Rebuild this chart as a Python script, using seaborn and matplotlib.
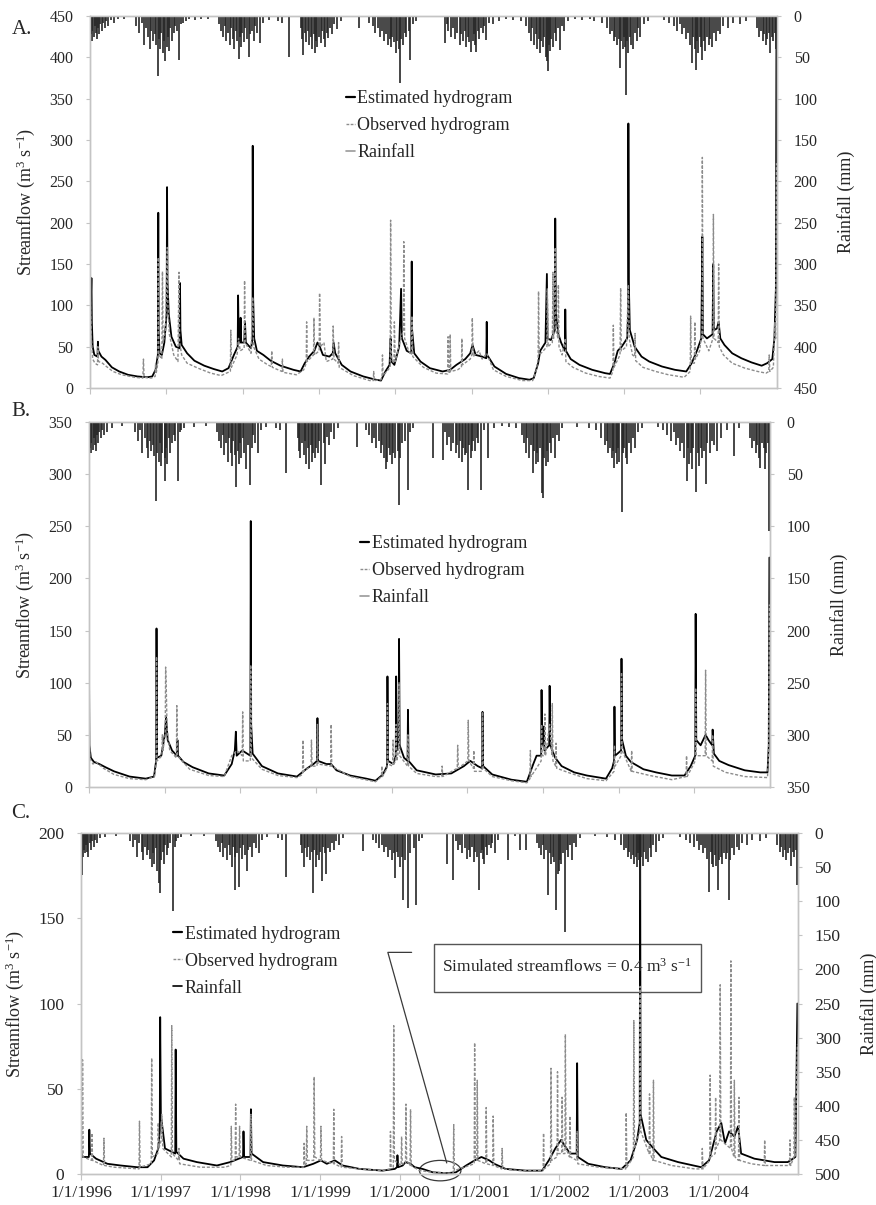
import pandas as pd
import matplotlib
matplotlib.use("Agg")
import matplotlib.pyplot as plt
import matplotlib.dates as mdates
from matplotlib.lines import Line2D
from matplotlib.patches import Ellipse, Rectangle
import seaborn as sns

# ---------------- panel A: streamflow (m3/s) ----------------
est_a = [("1996-01-01", 60), ("1996-01-08", 133), ("1996-01-10", 80), ("1996-01-14", 50), ("1996-01-22", 40),
         ("1996-02-06", 38), ("1996-02-08", 56), ("1996-02-10", 45), ("1996-02-25", 38), ("1996-03-15", 34),
         ("1996-04-15", 25), ("1996-05-20", 20), ("1996-07-01", 16), ("1996-08-15", 14), ("1996-10-01", 13),
         ("1996-10-25", 14), ("1996-11-10", 22), ("1996-11-21", 40), ("1996-11-23", 212), ("1996-11-25", 70),
         ("1996-11-29", 42), ("1996-12-10", 40), ("1996-12-22", 55), ("1997-01-02", 90), ("1997-01-04", 243),
         ("1997-01-06", 130), ("1997-01-12", 90), ("1997-01-25", 62), ("1997-02-15", 50), ("1997-03-05", 48),
         ("1997-03-07", 127), ("1997-03-09", 70), ("1997-03-15", 52), ("1997-04-10", 42), ("1997-05-15", 33),
         ("1997-07-01", 27), ("1997-08-15", 23), ("1997-09-25", 20), ("1997-10-25", 24), ("1997-11-20", 40),
         ("1997-12-08", 50), ("1997-12-10", 112), ("1997-12-13", 60), ("1997-12-20", 55), ("1997-12-22", 85),
         ("1997-12-25", 55), ("1998-01-08", 55), ("1998-01-12", 80), ("1998-01-16", 55), ("1998-02-10", 48),
         ("1998-02-17", 60), ("1998-02-18", 293), ("1998-02-20", 110), ("1998-02-25", 60), ("1998-03-10", 45),
         ("1998-04-10", 40), ("1998-05-15", 33), ("1998-07-01", 27), ("1998-09-01", 22), ("1998-10-05", 20),
         ("1998-10-25", 30), ("1998-11-15", 38), ("1998-12-10", 45), ("1998-12-25", 55), ("1999-01-05", 50),
         ("1999-01-20", 40), ("1999-02-20", 38), ("1999-03-08", 42), ("1999-03-12", 55), ("1999-03-20", 42),
         ("1999-04-20", 28), ("1999-06-01", 20), ("1999-08-01", 14), ("1999-10-01", 10), ("1999-10-25", 9),
         ("1999-11-15", 20), ("1999-12-05", 28), ("1999-12-10", 60), ("1999-12-14", 32), ("1999-12-28", 28),
         ("2000-01-20", 50), ("2000-01-29", 120), ("2000-02-02", 60), ("2000-02-10", 55), ("2000-02-25", 45),
         ("2000-03-18", 42), ("2000-03-20", 153), ("2000-03-22", 70), ("2000-04-01", 42), ("2000-05-01", 32),
         ("2000-06-15", 24), ("2000-08-15", 20), ("2000-09-20", 22), ("2000-10-20", 28), ("2000-12-01", 35),
         ("2000-12-25", 42), ("2001-01-05", 52), ("2001-01-20", 40), ("2001-02-20", 38), ("2001-03-12", 36),
         ("2001-03-14", 80), ("2001-03-16", 40), ("2001-04-20", 26), ("2001-06-15", 17), ("2001-08-15", 12),
         ("2001-10-05", 10), ("2001-10-25", 12), ("2001-11-15", 30), ("2001-11-25", 45), ("2001-12-20", 55),
         ("2001-12-27", 138), ("2001-12-30", 60), ("2002-01-15", 58), ("2002-02-03", 70), ("2002-02-05", 205),
         ("2002-02-08", 90), ("2002-02-20", 65), ("2002-03-05", 55), ("2002-03-23", 45), ("2002-03-25", 95),
         ("2002-03-28", 45), ("2002-04-20", 35), ("2002-06-01", 28), ("2002-08-01", 22), ("2002-10-01", 18),
         ("2002-10-25", 17), ("2002-11-15", 30), ("2002-12-01", 45), ("2002-12-20", 50), ("2003-01-15", 60),
         ("2003-01-20", 90), ("2003-01-21", 320), ("2003-01-23", 130), ("2003-01-28", 70), ("2003-02-20", 50),
         ("2003-03-25", 38), ("2003-05-01", 32), ("2003-07-01", 26), ("2003-09-01", 22), ("2003-10-25", 20),
         ("2003-11-20", 30), ("2003-12-15", 45), ("2004-01-05", 60), ("2004-01-10", 183), ("2004-01-13", 65),
         ("2004-02-01", 60), ("2004-02-28", 65), ("2004-03-02", 150), ("2004-03-05", 70), ("2004-03-20", 72),
         ("2004-03-28", 80), ("2004-04-05", 60), ("2004-04-25", 52), ("2004-06-01", 42), ("2004-07-15", 36),
         ("2004-09-01", 31), ("2004-10-20", 27), ("2004-11-15", 30), ("2004-12-10", 35), ("2004-12-20", 60),
         ("2004-12-27", 120), ("2004-12-30", 460)]

obs_a = [("1996-01-01", 140), ("1996-01-04", 90), ("1996-01-08", 60), ("1996-01-14", 35), ("1996-01-25", 30),
         ("1996-02-06", 28), ("1996-02-08", 50), ("1996-02-11", 32), ("1996-03-01", 30), ("1996-03-20", 26),
         ("1996-04-20", 20), ("1996-06-01", 16), ("1996-08-01", 13), ("1996-09-10", 12), ("1996-09-13", 35),
         ("1996-09-16", 13), ("1996-10-20", 12), ("1996-11-08", 14), ("1996-11-10", 30), ("1996-11-13", 18),
         ("1996-11-21", 30), ("1996-11-23", 158), ("1996-11-26", 40), ("1996-12-10", 35), ("1996-12-13", 141),
         ("1996-12-16", 55), ("1996-12-28", 70), ("1997-01-05", 170), ("1997-01-08", 100), ("1997-01-15", 65),
         ("1997-02-05", 40), ("1997-02-25", 32), ("1997-03-02", 140), ("1997-03-05", 55), ("1997-03-15", 40),
         ("1997-04-10", 30), ("1997-06-01", 24), ("1997-08-01", 18), ("1997-09-20", 15), ("1997-10-15", 18),
         ("1997-11-03", 20), ("1997-11-05", 70), ("1997-11-08", 25), ("1997-12-05", 40), ("1997-12-12", 60),
         ("1997-12-20", 45), ("1998-01-08", 48), ("1998-01-10", 130), ("1998-01-13", 55), ("1998-02-10", 42),
         ("1998-02-18", 110), ("1998-02-22", 50), ("1998-03-20", 35), ("1998-05-01", 28), ("1998-05-18", 26),
         ("1998-05-20", 45), ("1998-05-23", 25), ("1998-07-08", 20), ("1998-07-10", 35), ("1998-07-13", 19),
         ("1998-09-15", 16), ("1998-10-20", 22), ("1998-11-01", 30), ("1998-11-03", 80), ("1998-11-06", 32),
         ("1998-12-06", 40), ("1998-12-08", 85), ("1998-12-11", 40), ("1999-01-02", 45), ("1999-01-04", 115),
         ("1999-01-08", 50), ("1999-01-25", 55), ("1999-02-05", 32), ("1999-03-08", 35), ("1999-03-10", 75),
         ("1999-03-14", 35), ("1999-04-03", 30), ("1999-04-05", 55), ("1999-04-08", 25), ("1999-06-15", 15),
         ("1999-09-01", 9), ("1999-09-18", 9), ("1999-09-20", 20), ("1999-09-23", 9), ("1999-10-25", 10),
         ("1999-10-30", 15), ("1999-11-01", 40), ("1999-11-04", 15), ("1999-12-08", 25), ("1999-12-10", 203),
         ("1999-12-13", 35), ("1999-12-26", 30), ("1999-12-28", 80), ("2000-01-01", 32), ("2000-01-28", 60),
         ("2000-02-09", 70), ("2000-02-11", 177), ("2000-02-15", 60), ("2000-03-05", 45), ("2000-03-19", 40),
         ("2000-03-21", 87), ("2000-03-25", 38), ("2000-05-15", 25), ("2000-07-15", 18), ("2000-09-08", 17),
         ("2000-09-10", 62), ("2000-09-13", 18), ("2000-09-18", 18), ("2000-09-20", 65), ("2000-09-23", 20),
         ("2000-10-25", 22), ("2000-11-13", 25), ("2000-11-15", 60), ("2000-11-18", 28), ("2000-12-25", 35),
         ("2001-01-02", 40), ("2001-01-04", 85), ("2001-01-08", 38), ("2001-02-05", 45), ("2001-02-20", 35),
         ("2001-03-14", 42), ("2001-04-15", 22), ("2001-06-15", 14), ("2001-09-01", 9), ("2001-10-20", 9),
         ("2001-11-05", 20), ("2001-11-15", 35), ("2001-11-17", 117), ("2001-11-20", 40), ("2001-12-10", 45),
         ("2001-12-27", 50), ("2001-12-29", 120), ("2002-01-02", 50), ("2002-01-22", 55), ("2002-01-25", 140),
         ("2002-01-28", 60), ("2002-02-05", 170), ("2002-02-08", 70), ("2002-02-18", 60), ("2002-02-20", 125),
         ("2002-02-23", 50), ("2002-03-10", 40), ("2002-03-25", 60), ("2002-03-28", 32), ("2002-05-01", 25),
         ("2002-07-01", 18), ("2002-09-01", 14), ("2002-10-25", 12), ("2002-11-08", 20), ("2002-11-10", 76),
         ("2002-11-13", 25), ("2002-12-12", 40), ("2002-12-15", 121), ("2002-12-18", 45), ("2003-01-12", 50),
         ("2003-01-21", 125), ("2003-01-25", 60), ("2003-02-10", 40), ("2003-02-20", 38), ("2003-02-22", 66),
         ("2003-02-25", 33), ("2003-04-01", 25), ("2003-06-01", 20), ("2003-08-01", 16), ("2003-10-15", 13),
         ("2003-11-13", 20), ("2003-11-15", 87), ("2003-11-18", 30), ("2003-12-03", 30), ("2003-12-05", 80),
         ("2003-12-08", 35), ("2003-12-28", 45), ("2004-01-09", 70), ("2004-01-10", 279), ("2004-01-13", 60),
         ("2004-02-10", 45), ("2004-03-01", 60), ("2004-03-03", 210), ("2004-03-06", 60), ("2004-03-26", 55),
         ("2004-03-28", 150), ("2004-03-31", 50), ("2004-04-20", 40), ("2004-06-01", 30), ("2004-08-01", 24),
         ("2004-10-01", 20), ("2004-11-10", 18), ("2004-11-23", 20), ("2004-11-25", 40), ("2004-11-28", 20),
         ("2004-12-15", 25), ("2004-12-22", 80), ("2004-12-26", 60), ("2004-12-30", 272)]

rain_a = [("1996-01-02", 51), ("1996-01-05", 22), ("1996-01-09", 30), ("1996-01-13", 18), ("1996-01-18", 25),
          ("1996-01-24", 12), ("1996-01-29", 20), ("1996-02-03", 28), ("1996-02-08", 15), ("1996-02-14", 22),
          ("1996-02-20", 10), ("1996-02-27", 18), ("1996-03-05", 8), ("1996-03-12", 14), ("1996-03-20", 6),
          ("1996-03-28", 12), ("1996-04-10", 5), ("1996-04-25", 8), ("1996-05-15", 3), ("1996-06-10", 4),
          ("1996-08-10", 12), ("1996-08-25", 20), ("1996-09-05", 8), ("1996-09-15", 35), ("1996-09-25", 15),
          ("1996-10-05", 25), ("1996-10-12", 40), ("1996-10-20", 18), ("1996-10-28", 30), ("1996-11-05", 22),
          ("1996-11-12", 35), ("1996-11-20", 73), ("1996-11-25", 28), ("1996-12-02", 40), ("1996-12-08", 20),
          ("1996-12-15", 45), ("1996-12-20", 30), ("1996-12-27", 55), ("1997-01-03", 38), ("1997-01-08", 25),
          ("1997-01-14", 42), ("1997-01-20", 15), ("1997-01-27", 30), ("1997-02-05", 20), ("1997-02-12", 12),
          ("1997-02-20", 18), ("1997-03-03", 53), ("1997-03-10", 10), ("1997-03-20", 8), ("1997-04-05", 6),
          ("1997-04-20", 4), ("1997-05-20", 5), ("1997-06-15", 3), ("1997-07-20", 4),
          ("1997-09-10", 10), ("1997-09-20", 18), ("1997-10-01", 25), ("1997-10-08", 12), ("1997-10-15", 30),
          ("1997-10-22", 20), ("1997-11-01", 35), ("1997-11-08", 15), ("1997-11-15", 28), ("1997-11-22", 40),
          ("1997-11-28", 18), ("1997-12-05", 30), ("1997-12-12", 52), ("1997-12-18", 25), ("1997-12-24", 38),
          ("1997-12-30", 20), ("1998-01-06", 32), ("1998-01-12", 15), ("1998-01-20", 28), ("1998-01-30", 49),
          ("1998-02-06", 22), ("1998-02-14", 18), ("1998-02-22", 30), ("1998-03-02", 12), ("1998-03-12", 20),
          ("1998-03-25", 33), ("1998-04-10", 8), ("1998-05-05", 5), ("1998-06-20", 6), ("1998-07-10", 8),
          ("1998-08-12", 49),
          ("1998-10-05", 15), ("1998-10-12", 28), ("1998-10-18", 47), ("1998-10-25", 20), ("1998-11-02", 32),
          ("1998-11-09", 18), ("1998-11-16", 35), ("1998-11-23", 25), ("1998-11-30", 40), ("1998-12-06", 22),
          ("1998-12-12", 45), ("1998-12-18", 30), ("1998-12-25", 38), ("1999-01-02", 25), ("1999-01-09", 33),
          ("1999-01-16", 18), ("1999-01-23", 28), ("1999-01-30", 37), ("1999-02-07", 20), ("1999-02-15", 26),
          ("1999-02-24", 14), ("1999-03-05", 22), ("1999-03-15", 10), ("1999-03-28", 16), ("1999-04-15", 6),
          ("1999-07-12", 15),
          ("1999-08-30", 8), ("1999-09-15", 12), ("1999-09-28", 20), ("1999-10-10", 15), ("1999-10-20", 25),
          ("1999-11-01", 18), ("1999-11-10", 30), ("1999-11-18", 22), ("1999-11-27", 35), ("1999-12-05", 28),
          ("1999-12-12", 38), ("1999-12-18", 25), ("1999-12-26", 32), ("2000-01-03", 45), ("2000-01-10", 30),
          ("2000-01-17", 40), ("2000-01-25", 81), ("2000-01-31", 28), ("2000-02-08", 35), ("2000-02-15", 20),
          ("2000-02-22", 25), ("2000-03-05", 18), ("2000-03-14", 53), ("2000-03-25", 10), ("2000-04-10", 6),
          ("2000-08-25", 33),
          ("2000-09-05", 10), ("2000-09-12", 18), ("2000-09-25", 25), ("2000-10-05", 14), ("2000-10-15", 28),
          ("2000-10-25", 20), ("2000-11-05", 35), ("2000-11-12", 22), ("2000-11-20", 30), ("2000-11-28", 18),
          ("2000-12-06", 38), ("2000-12-13", 25), ("2000-12-20", 32), ("2000-12-31", 44), ("2001-01-05", 30),
          ("2001-01-10", 22), ("2001-01-17", 35), ("2001-01-23", 44), ("2001-01-30", 18), ("2001-02-06", 28),
          ("2001-02-14", 15), ("2001-02-22", 20), ("2001-03-01", 12), ("2001-03-12", 29), ("2001-03-25", 8),
          ("2001-04-15", 10), ("2001-05-10", 6), ("2001-06-15", 4), ("2001-07-20", 5), ("2001-08-25", 6),
          ("2001-09-20", 12), ("2001-10-01", 20), ("2001-10-10", 30), ("2001-10-18", 15), ("2001-10-26", 35),
          ("2001-11-03", 22), ("2001-11-10", 40), ("2001-11-17", 28), ("2001-11-24", 45), ("2001-12-01", 30),
          ("2001-12-08", 38), ("2001-12-15", 25), ("2001-12-21", 50), ("2001-12-27", 55), ("2002-01-01", 67),
          ("2002-01-06", 35), ("2002-01-12", 42), ("2002-01-18", 28), ("2002-01-25", 38), ("2002-02-02", 20),
          ("2002-02-10", 30), ("2002-02-18", 15), ("2002-02-26", 41), ("2002-03-08", 12), ("2002-03-20", 18),
          ("2002-04-05", 6), ("2002-05-10", 4), ("2002-06-15", 5), ("2002-07-20", 3), ("2002-08-10", 6),
          ("2002-09-15", 8), ("2002-10-10", 15), ("2002-10-25", 22), ("2002-11-05", 18), ("2002-11-12", 30),
          ("2002-11-20", 25), ("2002-11-28", 35), ("2002-12-05", 28), ("2002-12-12", 63), ("2002-12-18", 30),
          ("2002-12-25", 40), ("2002-12-30", 25), ("2003-01-05", 38), ("2003-01-08", 96), ("2003-01-14", 30),
          ("2003-01-20", 45), ("2003-01-27", 25), ("2003-02-04", 35), ("2003-02-12", 40), ("2003-02-20", 20),
          ("2003-03-01", 30), ("2003-03-10", 15), ("2003-03-20", 25), ("2003-04-05", 10), ("2003-04-25", 6),
          ("2003-07-10", 5), ("2003-08-05", 8), ("2003-08-25", 12), ("2003-09-10", 18), ("2003-09-25", 10),
          ("2003-10-05", 22), ("2003-10-15", 15), ("2003-10-25", 28), ("2003-11-03", 20), ("2003-11-12", 35),
          ("2003-11-22", 57), ("2003-11-28", 25), ("2003-12-05", 40), ("2003-12-10", 65), ("2003-12-16", 30),
          ("2003-12-22", 45), ("2003-12-28", 25), ("2004-01-04", 38), ("2004-01-10", 53), ("2004-01-17", 30),
          ("2004-01-25", 42), ("2004-02-02", 25), ("2004-02-10", 35), ("2004-02-18", 28), ("2004-02-26", 38),
          ("2004-03-05", 20), ("2004-03-15", 30), ("2004-03-25", 18), ("2004-04-05", 22), ("2004-04-20", 12),
          ("2004-05-10", 15), ("2004-06-05", 8), ("2004-07-10", 10), ("2004-08-05", 6),
          ("2004-09-28", 15), ("2004-10-08", 25), ("2004-10-16", 18), ("2004-10-24", 30), ("2004-11-01", 22),
          ("2004-11-09", 35), ("2004-11-16", 28), ("2004-11-23", 20), ("2004-12-01", 45), ("2004-12-08", 25),
          ("2004-12-15", 30), ("2004-12-22", 20), ("2004-12-28", 40)]

# ---------------- panel B ----------------
est_b = [("1996-01-01", 113), ("1996-01-03", 40), ("1996-01-10", 28), ("1996-01-25", 24), ("1996-02-20", 22),
         ("1996-03-20", 19), ("1996-05-01", 15), ("1996-07-15", 10), ("1996-10-01", 8), ("1996-11-10", 10),
         ("1996-11-20", 25), ("1996-11-22", 152), ("1996-11-25", 28), ("1996-12-15", 30), ("1997-01-01", 50),
         ("1997-01-07", 67), ("1997-01-15", 45), ("1997-02-05", 35), ("1997-02-28", 30), ("1997-03-03", 45),
         ("1997-03-06", 30), ("1997-04-01", 24), ("1997-05-15", 19), ("1997-08-01", 13), ("1997-10-15", 11),
         ("1997-11-20", 22), ("1997-12-05", 35), ("1997-12-10", 53), ("1997-12-14", 30), ("1998-01-10", 35),
         ("1998-02-18", 30), ("1998-02-20", 255), ("1998-02-22", 60), ("1998-03-01", 32), ("1998-04-15", 20),
         ("1998-07-01", 13), ("1998-10-01", 10), ("1998-11-20", 18), ("1998-12-20", 22), ("1999-01-06", 25),
         ("1999-01-08", 66), ("1999-01-11", 25), ("1999-02-20", 22), ("1999-03-15", 22), ("1999-04-10", 16),
         ("1999-06-15", 11), ("1999-09-01", 8), ("1999-10-15", 6), ("1999-11-20", 12), ("1999-12-10", 20),
         ("1999-12-12", 106), ("1999-12-15", 25), ("2000-01-10", 22), ("2000-01-21", 30), ("2000-01-23", 106),
         ("2000-01-26", 35), ("2000-02-04", 45), ("2000-02-06", 142), ("2000-02-09", 40), ("2000-03-01", 28),
         ("2000-03-18", 25), ("2000-03-20", 74), ("2000-03-23", 25), ("2000-05-01", 16), ("2000-08-01", 12),
         ("2000-10-15", 13), ("2000-12-15", 20), ("2001-01-15", 25), ("2001-02-20", 20), ("2001-03-13", 18),
         ("2001-03-15", 72), ("2001-03-18", 20), ("2001-05-01", 12), ("2001-08-01", 7), ("2001-10-15", 5),
         ("2001-11-15", 22), ("2001-12-01", 30), ("2001-12-23", 30), ("2001-12-25", 93), ("2001-12-28", 40),
         ("2002-01-05", 58), ("2002-01-08", 35), ("2002-01-31", 40), ("2002-02-02", 97), ("2002-02-05", 40),
         ("2002-03-01", 28), ("2002-04-01", 20), ("2002-06-01", 14), ("2002-08-01", 11), ("2002-11-01", 8),
         ("2002-12-01", 18), ("2002-12-10", 25), ("2002-12-12", 77), ("2002-12-15", 30), ("2003-01-13", 35),
         ("2003-01-15", 123), ("2003-01-18", 45), ("2003-02-05", 30), ("2003-03-01", 24), ("2003-05-01", 17),
         ("2003-07-01", 14), ("2003-09-15", 11), ("2003-11-15", 11), ("2003-12-15", 20), ("2004-01-06", 30),
         ("2004-01-08", 166), ("2004-01-11", 45), ("2004-02-01", 40), ("2004-02-25", 50), ("2004-03-10", 45),
         ("2004-03-28", 40), ("2004-03-30", 55), ("2004-04-05", 32), ("2004-05-01", 25), ("2004-06-15", 21),
         ("2004-09-01", 16), ("2004-11-15", 14), ("2004-12-20", 14), ("2004-12-26", 40), ("2004-12-29", 220)]

obs_b = [("1996-01-01", 60), ("1996-01-04", 28), ("1996-01-20", 22), ("1996-02-05", 24), ("1996-03-10", 18),
         ("1996-05-01", 12), ("1996-07-15", 8), ("1996-10-01", 7), ("1996-11-12", 10), ("1996-11-20", 22),
         ("1996-11-22", 125), ("1996-11-25", 25), ("1996-12-18", 30), ("1996-12-20", 50), ("1996-12-23", 35),
         ("1997-01-03", 50), ("1997-01-05", 115), ("1997-01-08", 95), ("1997-01-12", 55), ("1997-01-25", 35),
         ("1997-02-26", 28), ("1997-02-28", 78), ("1997-03-03", 30), ("1997-05-01", 17), ("1997-08-01", 11),
         ("1997-10-15", 10), ("1997-11-20", 30), ("1997-12-15", 35), ("1998-01-10", 30), ("1998-01-12", 72),
         ("1998-01-15", 25), ("1998-02-18", 25), ("1998-02-20", 117), ("1998-02-23", 28), ("1998-04-15", 17),
         ("1998-07-01", 11), ("1998-10-01", 9), ("1998-10-28", 12), ("1998-10-30", 45), ("1998-11-02", 15),
         ("1998-12-08", 20), ("1998-12-10", 45), ("1998-12-13", 20), ("1999-01-06", 20), ("1999-01-08", 60),
         ("1999-01-11", 22), ("1999-03-13", 20), ("1999-03-15", 60), ("1999-03-18", 20), ("1999-06-15", 10),
         ("1999-10-15", 5), ("1999-11-13", 10), ("1999-11-15", 20), ("1999-11-18", 10), ("1999-12-10", 18),
         ("1999-12-12", 80), ("1999-12-15", 22), ("2000-01-06", 20), ("2000-01-08", 45), ("2000-01-11", 22),
         ("2000-01-21", 25), ("2000-01-23", 60), ("2000-01-26", 25), ("2000-02-04", 35), ("2000-02-06", 100),
         ("2000-02-09", 30), ("2000-03-18", 20), ("2000-03-20", 50), ("2000-03-23", 20), ("2000-05-01", 13),
         ("2000-08-01", 10), ("2000-08-30", 10), ("2000-09-01", 20), ("2000-09-04", 10), ("2000-11-13", 18),
         ("2000-11-15", 40), ("2000-11-18", 18), ("2001-01-03", 25), ("2001-01-05", 64), ("2001-01-08", 25),
         ("2001-01-30", 18), ("2001-02-01", 35), ("2001-02-04", 15), ("2001-03-13", 15), ("2001-03-15", 72),
         ("2001-03-18", 18), ("2001-05-01", 10), ("2001-08-01", 6), ("2001-10-15", 4), ("2001-10-30", 8),
         ("2001-11-01", 35), ("2001-11-04", 10), ("2001-12-23", 25), ("2001-12-25", 60), ("2001-12-28", 30),
         ("2002-01-08", 30), ("2002-01-10", 70), ("2002-01-13", 30), ("2002-02-02", 60), ("2002-02-13", 30),
         ("2002-02-15", 80), ("2002-02-18", 25), ("2002-03-03", 20), ("2002-03-05", 42), ("2002-03-08", 18),
         ("2002-05-01", 14), ("2002-08-01", 8), ("2002-11-01", 6), ("2002-12-10", 15), ("2002-12-12", 40),
         ("2002-12-15", 20), ("2003-01-13", 30), ("2003-01-15", 110), ("2003-01-18", 35), ("2003-03-03", 15),
         ("2003-03-05", 35), ("2003-03-08", 15), ("2003-06-01", 11), ("2003-09-15", 7), ("2003-11-23", 10),
         ("2003-11-25", 30), ("2003-11-28", 10), ("2004-01-06", 25), ("2004-01-08", 95), ("2004-01-11", 30),
         ("2004-02-23", 30), ("2004-02-25", 112), ("2004-02-28", 30), ("2004-03-28", 25), ("2004-03-30", 50),
         ("2004-04-02", 20), ("2004-06-01", 14), ("2004-09-01", 10), ("2004-12-20", 9), ("2004-12-26", 40),
         ("2004-12-29", 175)]

rain_b = [("1996-01-02", 57), ("1996-01-05", 25), ("1996-01-09", 30), ("1996-01-13", 20), ("1996-01-18", 27),
          ("1996-01-24", 15), ("1996-01-29", 22), ("1996-02-03", 28), ("1996-02-08", 12), ("1996-02-14", 20),
          ("1996-02-20", 10), ("1996-02-27", 15), ("1996-03-05", 8), ("1996-03-12", 12), ("1996-03-28", 10),
          ("1996-04-20", 6), ("1996-06-10", 4),
          ("1996-08-10", 10), ("1996-08-25", 18), ("1996-09-05", 8), ("1996-09-15", 30), ("1996-09-25", 15),
          ("1996-10-05", 25), ("1996-10-12", 35), ("1996-10-20", 18), ("1996-10-28", 28), ("1996-11-05", 22),
          ("1996-11-12", 33), ("1996-11-20", 76), ("1996-11-25", 30), ("1996-12-02", 38), ("1996-12-08", 20),
          ("1996-12-15", 42), ("1996-12-20", 30), ("1996-12-31", 57), ("1997-01-04", 35), ("1997-01-08", 25),
          ("1997-01-14", 40), ("1997-01-20", 15), ("1997-01-27", 30), ("1997-02-05", 20), ("1997-02-12", 12),
          ("1997-02-20", 18), ("1997-03-07", 57), ("1997-03-14", 10), ("1997-03-22", 8), ("1997-04-05", 6),
          ("1997-05-20", 5), ("1997-07-20", 4),
          ("1997-09-10", 10), ("1997-09-20", 18), ("1997-10-01", 25), ("1997-10-08", 12), ("1997-10-15", 32),
          ("1997-10-22", 20), ("1997-11-01", 38), ("1997-11-08", 15), ("1997-11-15", 30), ("1997-11-22", 42),
          ("1997-11-28", 18), ("1997-12-05", 32), ("1997-12-12", 62), ("1997-12-18", 28), ("1997-12-24", 40),
          ("1997-12-30", 20), ("1998-01-06", 35), ("1998-01-12", 15), ("1998-01-20", 30), ("1998-01-30", 45),
          ("1998-02-06", 22), ("1998-02-17", 60), ("1998-02-24", 25), ("1998-03-02", 12), ("1998-03-12", 20),
          ("1998-03-25", 30), ("1998-04-10", 8), ("1998-05-05", 5), ("1998-06-20", 6), ("1998-07-10", 8),
          ("1998-08-08", 49),
          ("1998-10-05", 15), ("1998-10-12", 28), ("1998-10-18", 35), ("1998-10-25", 20), ("1998-11-02", 32),
          ("1998-11-09", 18), ("1998-11-16", 40), ("1998-11-23", 25), ("1998-11-30", 45), ("1998-12-06", 22),
          ("1998-12-12", 38), ("1998-12-18", 30), ("1998-12-25", 35), ("1999-01-02", 25), ("1999-01-09", 30),
          ("1999-01-16", 18), ("1999-01-27", 60), ("1999-02-07", 20), ("1999-02-15", 40), ("1999-02-24", 14),
          ("1999-03-05", 22), ("1999-03-15", 10), ("1999-03-28", 16), ("1999-04-15", 6), ("1999-07-20", 24),
          ("1999-08-30", 8), ("1999-09-15", 12), ("1999-09-28", 20), ("1999-10-10", 15), ("1999-10-20", 25),
          ("1999-11-01", 18), ("1999-11-10", 30), ("1999-11-18", 22), ("1999-11-27", 35), ("1999-12-05", 45),
          ("1999-12-12", 38), ("1999-12-18", 25), ("1999-12-26", 32), ("2000-01-03", 40), ("2000-01-10", 30),
          ("2000-01-17", 35), ("2000-01-31", 28), ("2000-02-06", 80), ("2000-02-12", 35), ("2000-02-20", 20),
          ("2000-03-05", 18), ("2000-03-22", 65), ("2000-03-30", 10), ("2000-04-15", 6), ("2000-07-17", 35),
          ("2000-09-05", 36), ("2000-09-15", 10), ("2000-09-25", 22), ("2000-10-05", 14), ("2000-10-15", 28),
          ("2000-10-25", 20), ("2000-11-05", 30), ("2000-11-12", 22), ("2000-11-20", 35), ("2000-11-28", 18),
          ("2000-12-06", 38), ("2000-12-13", 25), ("2000-12-20", 32), ("2000-12-27", 30), ("2001-01-04", 65),
          ("2001-01-10", 22), ("2001-01-17", 35), ("2001-01-23", 28), ("2001-01-30", 18), ("2001-02-06", 28),
          ("2001-02-14", 15), ("2001-02-22", 20), ("2001-03-10", 65), ("2001-03-20", 8), ("2001-04-12", 35),
          ("2001-05-10", 6), ("2001-06-15", 4), ("2001-07-20", 5), ("2001-08-25", 6),
          ("2001-09-20", 12), ("2001-10-01", 20), ("2001-10-10", 30), ("2001-10-18", 15), ("2001-10-26", 35),
          ("2001-11-03", 22), ("2001-11-13", 49), ("2001-11-20", 28), ("2001-11-27", 40), ("2001-12-04", 30),
          ("2001-12-10", 38), ("2001-12-17", 25), ("2001-12-28", 68), ("2002-01-03", 73), ("2002-01-08", 35),
          ("2002-01-14", 42), ("2002-01-20", 28), ("2002-01-27", 38), ("2002-02-03", 20), ("2002-02-10", 30),
          ("2002-02-18", 15), ("2002-02-26", 35), ("2002-03-08", 12), ("2002-03-20", 18), ("2002-04-05", 6),
          ("2002-06-15", 5), ("2002-08-10", 6),
          ("2002-09-15", 8), ("2002-10-10", 15), ("2002-10-25", 22), ("2002-11-05", 18), ("2002-11-12", 30),
          ("2002-11-20", 25), ("2002-11-28", 35), ("2002-12-05", 28), ("2002-12-12", 44), ("2002-12-18", 30),
          ("2002-12-25", 40), ("2002-12-30", 25), ("2003-01-05", 38), ("2003-01-15", 86), ("2003-01-20", 30),
          ("2003-01-27", 25), ("2003-02-04", 35), ("2003-02-12", 40), ("2003-02-20", 20), ("2003-03-01", 30),
          ("2003-03-10", 15), ("2003-03-20", 25), ("2003-04-05", 10), ("2003-04-25", 6),
          ("2003-07-10", 5), ("2003-08-05", 8), ("2003-08-25", 12), ("2003-09-10", 18), ("2003-09-25", 10),
          ("2003-10-05", 22), ("2003-10-15", 15), ("2003-10-25", 28), ("2003-11-03", 20), ("2003-11-12", 35),
          ("2003-11-25", 57), ("2003-12-02", 25), ("2003-12-08", 40), ("2003-12-15", 30), ("2003-12-22", 45),
          ("2003-12-28", 25), ("2004-01-10", 67), ("2004-01-17", 30), ("2004-01-25", 42), ("2004-02-02", 25),
          ("2004-02-10", 35), ("2004-02-18", 28), ("2004-02-28", 59), ("2004-03-05", 20), ("2004-03-15", 30),
          ("2004-03-25", 18), ("2004-04-05", 22), ("2004-04-20", 28), ("2004-05-10", 15), ("2004-06-05", 8),
          ("2004-07-10", 33), ("2004-08-05", 6),
          ("2004-09-28", 15), ("2004-10-08", 25), ("2004-10-16", 18), ("2004-10-24", 30), ("2004-11-01", 22),
          ("2004-11-09", 35), ("2004-11-16", 44), ("2004-11-23", 20), ("2004-12-01", 25), ("2004-12-08", 45),
          ("2004-12-15", 30), ("2004-12-22", 20), ("2004-12-29", 105)]

# ---------------- panel C ----------------
est_c = [("1996-01-01", 15), ("1996-01-05", 10), ("1996-02-06", 10), ("1996-02-08", 26), ("1996-02-11", 12),
         ("1996-03-10", 9), ("1996-05-01", 6), ("1996-07-01", 5), ("1996-09-15", 4), ("1996-11-01", 4),
         ("1996-12-01", 8), ("1996-12-20", 15), ("1996-12-27", 25), ("1996-12-29", 92), ("1997-01-01", 35),
         ("1997-01-20", 15), ("1997-03-08", 12), ("1997-03-10", 73), ("1997-03-13", 13), ("1997-04-15", 9),
         ("1997-06-15", 7), ("1997-09-15", 5), ("1997-11-15", 7), ("1998-01-13", 10), ("1998-01-15", 25),
         ("1998-01-18", 10), ("1998-02-16", 10), ("1998-02-18", 38), ("1998-02-21", 12), ("1998-04-15", 7),
         ("1998-07-15", 5), ("1998-10-15", 4), ("1998-12-01", 6), ("1999-01-05", 8), ("1999-02-01", 6),
         ("1999-03-10", 8), ("1999-04-15", 5), ("1999-07-01", 3), ("1999-10-15", 2), ("1999-12-10", 3),
         ("1999-12-20", 4), ("1999-12-22", 11), ("1999-12-25", 4), ("2000-01-15", 5), ("2000-01-28", 7),
         ("2000-02-20", 6), ("2000-03-10", 4), ("2000-04-15", 3), ("2000-06-01", 1), ("2000-08-01", 0.5),
         ("2000-09-15", 1), ("2000-11-01", 5), ("2000-12-10", 8), ("2001-01-10", 10), ("2001-02-15", 8),
         ("2001-03-10", 6), ("2001-05-01", 3), ("2001-08-01", 2), ("2001-10-15", 2), ("2001-11-15", 8),
         ("2001-12-15", 15), ("2002-01-10", 20), ("2002-02-20", 12), ("2002-03-23", 12), ("2002-03-25", 65),
         ("2002-03-28", 10), ("2002-05-15", 6), ("2002-08-01", 4), ("2002-10-15", 3), ("2002-11-25", 8),
         ("2002-12-25", 20), ("2003-01-06", 30), ("2003-01-08", 205), ("2003-01-10", 35), ("2003-02-05", 20),
         ("2003-03-10", 15), ("2003-04-15", 10), ("2003-07-01", 7), ("2003-10-15", 4), ("2003-11-20", 8),
         ("2003-12-25", 25), ("2004-01-15", 30), ("2004-02-01", 18), ("2004-02-20", 25), ("2004-03-15", 22),
         ("2004-04-01", 28), ("2004-04-15", 12), ("2004-06-15", 9), ("2004-09-15", 7), ("2004-11-15", 7),
         ("2004-12-20", 10), ("2004-12-29", 100)]

obs_c = [("1996-01-01", 15), ("1996-01-06", 12), ("1996-01-08", 67), ("1996-01-11", 10), ("1996-02-18", 8),
         ("1996-02-20", 24), ("1996-02-23", 8), ("1996-04-13", 5), ("1996-04-15", 21), ("1996-04-18", 5),
         ("1996-06-01", 4), ("1996-09-23", 3), ("1996-09-25", 31), ("1996-09-28", 4), ("1996-11-18", 6),
         ("1996-11-20", 68), ("1996-11-23", 10), ("1996-12-18", 12), ("1996-12-20", 30), ("1996-12-23", 15),
         ("1997-01-03", 20), ("1997-01-05", 35), ("1997-01-10", 15), ("1997-02-18", 10), ("1997-02-20", 87),
         ("1997-02-23", 12), ("1997-03-23", 8), ("1997-03-25", 15), ("1997-03-28", 6), ("1997-07-01", 4),
         ("1997-10-20", 4), ("1997-11-18", 5), ("1997-11-20", 28), ("1997-11-23", 8), ("1997-12-08", 8),
         ("1997-12-10", 41), ("1997-12-13", 10), ("1997-12-26", 10), ("1997-12-28", 28), ("1997-12-31", 10),
         ("1998-02-16", 8), ("1998-02-18", 35), ("1998-02-21", 8), ("1998-05-01", 5), ("1998-08-01", 4),
         ("1998-10-18", 4), ("1998-10-20", 18), ("1998-10-23", 5), ("1998-10-30", 6), ("1998-11-01", 28),
         ("1998-11-04", 8), ("1998-12-03", 8), ("1998-12-05", 57), ("1998-12-08", 10), ("1999-01-03", 8),
         ("1999-01-05", 28), ("1999-01-08", 8), ("1999-03-03", 6), ("1999-03-05", 38), ("1999-03-08", 6),
         ("1999-04-08", 4), ("1999-04-10", 22), ("1999-04-13", 4), ("1999-07-01", 3), ("1999-10-15", 2),
         ("1999-11-18", 3), ("1999-11-20", 25), ("1999-11-23", 4), ("1999-12-03", 4), ("1999-12-05", 87),
         ("1999-12-08", 8), ("2000-01-08", 5), ("2000-01-10", 22), ("2000-01-13", 6), ("2000-01-28", 6),
         ("2000-01-30", 41), ("2000-02-02", 8), ("2000-02-18", 5), ("2000-02-20", 38), ("2000-02-23", 5),
         ("2000-04-01", 2), ("2000-06-01", 1), ("2000-09-01", 0.5), ("2000-09-03", 1), ("2000-09-05", 29),
         ("2000-09-08", 2), ("2000-12-08", 6), ("2000-12-10", 77), ("2000-12-13", 10), ("2000-12-20", 8),
         ("2000-12-22", 55), ("2000-12-25", 8), ("2001-01-30", 6), ("2001-02-01", 39), ("2001-02-04", 6),
         ("2001-03-03", 5), ("2001-03-05", 34), ("2001-03-08", 5), ("2001-04-13", 3), ("2001-04-15", 15),
         ("2001-04-18", 3), ("2001-07-01", 2), ("2001-10-20", 2), ("2001-10-22", 24), ("2001-10-25", 3),
         ("2001-11-23", 6), ("2001-11-25", 62), ("2001-11-28", 8), ("2001-12-23", 10), ("2001-12-25", 60),
         ("2001-12-28", 12), ("2002-01-13", 12), ("2002-01-15", 45), ("2002-01-18", 12), ("2002-01-28", 12),
         ("2002-01-30", 82), ("2002-02-02", 15), ("2002-02-18", 10), ("2002-02-20", 34), ("2002-02-23", 10),
         ("2002-03-23", 8), ("2002-03-25", 25), ("2002-03-28", 6), ("2002-07-01", 4), ("2002-11-03", 3),
         ("2002-11-05", 36), ("2002-11-08", 4), ("2002-12-08", 10), ("2002-12-10", 90), ("2002-12-13", 15),
         ("2003-01-06", 25), ("2003-01-08", 110), ("2003-01-11", 25), ("2003-02-18", 12), ("2003-02-20", 47),
         ("2003-02-23", 12), ("2003-03-08", 8), ("2003-03-10", 55), ("2003-03-13", 8), ("2003-06-01", 5),
         ("2003-09-15", 3), ("2003-10-18", 3), ("2003-10-20", 15), ("2003-10-23", 3), ("2003-11-23", 8),
         ("2003-11-25", 58), ("2003-11-28", 10), ("2003-12-18", 12), ("2003-12-20", 45), ("2003-12-23", 15),
         ("2004-01-08", 20), ("2004-01-10", 111), ("2004-01-13", 20), ("2004-02-26", 15), ("2004-02-28", 125),
         ("2004-03-02", 15), ("2004-03-13", 10), ("2004-03-15", 55), ("2004-03-18", 10), ("2004-04-03", 8),
         ("2004-04-05", 45), ("2004-04-08", 8), ("2004-06-01", 6), ("2004-07-30", 5), ("2004-08-01", 20),
         ("2004-08-04", 5), ("2004-11-01", 5), ("2004-11-23", 5), ("2004-11-25", 20), ("2004-11-28", 5),
         ("2004-12-13", 10), ("2004-12-15", 45), ("2004-12-18", 10), ("2004-12-29", 76)]

rain_c = [("1996-01-02", 71), ("1996-01-06", 61), ("1996-01-10", 35), ("1996-01-14", 25), ("1996-01-19", 30),
          ("1996-01-25", 18), ("1996-01-30", 28), ("1996-02-04", 35), ("1996-02-10", 15), ("1996-02-16", 25),
          ("1996-02-22", 12), ("1996-02-28", 20), ("1996-03-06", 10), ("1996-03-14", 15), ("1996-03-28", 8),
          ("1996-04-20", 6), ("1996-06-10", 5),
          ("1996-08-12", 12), ("1996-08-25", 20), ("1996-09-05", 10), ("1996-09-15", 35), ("1996-09-25", 15),
          ("1996-10-05", 28), ("1996-10-12", 40), ("1996-10-20", 20), ("1996-10-28", 32), ("1996-11-05", 25),
          ("1996-11-12", 38), ("1996-11-20", 50), ("1996-11-25", 30), ("1996-12-02", 45), ("1996-12-08", 22),
          ("1996-12-15", 55), ("1996-12-22", 74), ("1996-12-29", 88), ("1997-01-04", 40), ("1997-01-09", 28),
          ("1997-01-14", 45), ("1997-01-20", 18), ("1997-01-27", 32), ("1997-02-05", 22), ("1997-02-12", 15),
          ("1997-02-25", 115), ("1997-03-05", 20), ("1997-03-12", 12), ("1997-03-22", 8), ("1997-04-05", 6),
          ("1997-05-20", 5), ("1997-07-20", 4),
          ("1997-09-10", 12), ("1997-09-20", 20), ("1997-10-01", 28), ("1997-10-08", 15), ("1997-10-15", 35),
          ("1997-10-22", 22), ("1997-11-01", 40), ("1997-11-08", 18), ("1997-11-15", 32), ("1997-11-22", 50),
          ("1997-11-28", 20), ("1997-12-05", 35), ("1997-12-08", 83), ("1997-12-18", 30), ("1997-12-24", 79),
          ("1997-12-30", 22), ("1998-01-06", 38), ("1998-01-12", 18), ("1998-01-20", 32), ("1998-01-30", 55),
          ("1998-02-06", 25), ("1998-02-14", 20), ("1998-02-22", 35), ("1998-03-02", 15), ("1998-03-12", 22),
          ("1998-03-25", 30), ("1998-04-10", 10), ("1998-05-05", 6), ("1998-06-20", 8), ("1998-07-10", 10),
          ("1998-07-30", 64),
          ("1998-10-05", 18), ("1998-10-12", 30), ("1998-10-18", 50), ("1998-10-25", 22), ("1998-11-02", 35),
          ("1998-11-09", 20), ("1998-11-16", 40), ("1998-11-23", 28), ("1998-11-30", 88), ("1998-12-06", 25),
          ("1998-12-12", 50), ("1998-12-18", 32), ("1998-12-25", 40), ("1999-01-02", 28), ("1999-01-09", 70),
          ("1999-01-16", 20), ("1999-01-23", 30), ("1999-01-30", 60), ("1999-02-07", 22), ("1999-02-15", 28),
          ("1999-02-24", 15), ("1999-03-05", 25), ("1999-03-15", 12), ("1999-03-28", 18), ("1999-04-15", 8),
          ("1999-07-15", 27),
          ("1999-08-30", 10), ("1999-09-15", 15), ("1999-09-28", 22), ("1999-10-10", 18), ("1999-10-20", 28),
          ("1999-11-01", 20), ("1999-11-10", 35), ("1999-11-18", 25), ("1999-11-27", 40), ("1999-12-05", 30),
          ("1999-12-12", 66), ("1999-12-18", 28), ("1999-12-26", 35), ("2000-01-03", 50), ("2000-01-10", 35),
          ("2000-01-15", 98), ("2000-01-25", 40), ("2000-02-10", 110), ("2000-02-18", 30), ("2000-03-05", 22),
          ("2000-03-17", 105), ("2000-03-28", 12), ("2000-04-12", 8), ("2000-08-03", 46),
          ("2000-09-01", 69), ("2000-09-15", 12), ("2000-09-25", 25), ("2000-10-05", 18), ("2000-10-15", 30),
          ("2000-10-25", 22), ("2000-11-05", 38), ("2000-11-12", 25), ("2000-11-20", 35), ("2000-11-28", 20),
          ("2000-12-06", 42), ("2000-12-13", 28), ("2000-12-20", 35), ("2000-12-31", 84), ("2001-01-06", 30),
          ("2001-01-12", 25), ("2001-01-18", 38), ("2001-01-24", 45), ("2001-01-30", 20), ("2001-02-06", 32),
          ("2001-02-14", 18), ("2001-02-22", 22), ("2001-03-01", 15), ("2001-03-12", 30), ("2001-03-25", 10),
          ("2001-05-10", 40), ("2001-06-15", 5), ("2001-07-05", 25), ("2001-08-03", 25),
          ("2001-09-20", 15), ("2001-10-01", 22), ("2001-10-10", 32), ("2001-10-18", 18), ("2001-10-26", 38),
          ("2001-11-03", 25), ("2001-11-12", 91), ("2001-11-20", 30), ("2001-11-27", 45), ("2001-12-04", 35),
          ("2001-12-10", 42), ("2001-12-20", 113), ("2001-12-25", 60), ("2002-01-01", 55), ("2002-01-06", 40),
          ("2002-01-12", 45), ("2002-01-18", 30), ("2002-01-30", 145), ("2002-02-05", 25), ("2002-02-12", 35),
          ("2002-02-20", 18), ("2002-02-28", 40), ("2002-03-10", 15), ("2002-03-22", 20), ("2002-04-05", 8),
          ("2002-06-15", 5), ("2002-08-10", 6),
          ("2002-09-15", 10), ("2002-10-10", 18), ("2002-10-25", 25), ("2002-11-05", 22), ("2002-11-12", 35),
          ("2002-11-20", 28), ("2002-11-28", 38), ("2002-12-05", 32), ("2002-12-12", 45), ("2002-12-18", 35),
          ("2002-12-25", 50), ("2002-12-30", 30), ("2003-01-04", 40), ("2003-01-08", 98), ("2003-01-14", 35),
          ("2003-01-20", 48), ("2003-01-27", 28), ("2003-02-04", 38), ("2003-02-12", 42), ("2003-02-20", 22),
          ("2003-03-01", 35), ("2003-03-10", 18), ("2003-03-20", 28), ("2003-04-05", 12), ("2003-04-25", 8),
          ("2003-07-10", 6), ("2003-08-05", 10), ("2003-08-25", 15), ("2003-09-10", 20), ("2003-09-25", 12),
          ("2003-10-05", 25), ("2003-10-15", 18), ("2003-10-25", 30), ("2003-11-03", 22), ("2003-11-12", 38),
          ("2003-11-20", 86), ("2003-11-28", 28), ("2003-12-05", 45), ("2003-12-10", 50), ("2003-12-16", 32),
          ("2003-12-22", 48), ("2003-12-31", 84), ("2004-01-06", 40), ("2004-01-12", 35), ("2004-01-20", 45),
          ("2004-01-28", 30), ("2004-02-04", 38), ("2004-02-10", 30), ("2004-02-20", 98), ("2004-02-26", 40),
          ("2004-03-05", 22), ("2004-03-15", 32), ("2004-03-25", 20), ("2004-04-05", 25), ("2004-04-20", 15),
          ("2004-05-10", 18), ("2004-06-05", 10), ("2004-07-10", 12), ("2004-08-05", 8),
          ("2004-09-28", 18), ("2004-10-08", 28), ("2004-10-16", 20), ("2004-10-24", 35), ("2004-11-01", 25),
          ("2004-11-09", 40), ("2004-11-16", 30), ("2004-11-23", 22), ("2004-12-01", 48), ("2004-12-08", 28),
          ("2004-12-15", 35), ("2004-12-22", 25), ("2004-12-29", 76)]

year_ticks = ["1996-01-01", "1997-01-01", "1998-01-01", "1999-01-01", "2000-01-01",
              "2001-01-01", "2002-01-01", "2003-01-01", "2004-01-01"]


def to_df(points):
    df = pd.DataFrame(points, columns=["date", "value"])
    df["date"] = pd.to_datetime(df["date"])
    return df


sns.set_style("ticks")
plt.rcParams["font.family"] = ["Liberation Serif", "DejaVu Serif"]
plt.rcParams["mathtext.fontset"] = "custom"
plt.rcParams["mathtext.rm"] = "Liberation Serif"
plt.rcParams["mathtext.it"] = "Liberation Serif:italic"

EST_COLOR = "black"
OBS_COLOR = "#8c8c8c"
RAIN_COLOR = "#262626"
SPINE = "#c4c4c4"
OBS_DASH = (0, (2.2, 1.3))

panels = [
    dict(name="A.", est=est_a, obs=obs_a, rain=rain_a, qmax=450, rmax=450,
         rect=[0.1027, 0.678, 0.7842, 0.3087], leg=(0.372, 0.80), rain_leg="#9a9a9a",
         fs=11.5, lab_y=1 - 30 / 1205),
    dict(name="B.", est=est_b, obs=obs_b, rain=rain_b, qmax=350, rmax=350,
         rect=[0.1016, 0.3469, 0.7774, 0.3029], leg=(0.398, 0.69), rain_leg="#9a9a9a",
         fs=11.5, lab_y=1 - 411 / 1205),
    dict(name="C.", est=est_c, obs=obs_c, rain=rain_c, qmax=200, rmax=500,
         rect=[0.0925, 0.0257, 0.8185, 0.283], leg=(0.128, 0.728), rain_leg="black",
         fs=12.5, lab_y=1 - 814 / 1205),
]

fig = plt.figure(figsize=(8.76, 12.05), dpi=100)
ticks = pd.to_datetime(year_ticks)

for i, p in enumerate(panels):
    ax = fig.add_axes(p["rect"])
    est = to_df(p["est"])
    obs = to_df(p["obs"])
    rain = to_df(p["rain"])

    sns.lineplot(data=est, x="date", y="value", ax=ax, color=EST_COLOR, lw=1.3, estimator=None)
    sns.lineplot(data=obs, x="date", y="value", ax=ax, color=OBS_COLOR, lw=1.0,
                 linestyle=OBS_DASH, estimator=None)

    ax.set_xlim(pd.Timestamp("1996-01-01"), pd.Timestamp("2005-01-01"))
    ax.set_ylim(0, p["qmax"])
    ax.set_yticks(range(0, p["qmax"] + 1, 50))
    ax.set_xticks(ticks)
    if i == 2:
        ax.set_xticklabels([f"{d.month}/{d.day}/{d.year}" for d in ticks], fontsize=12.5)
    else:
        ax.set_xticklabels([])
    ax.set_xlabel("")
    ax.set_ylabel("Streamflow (m$^3$ s$^{-1}$)", fontsize=13, labelpad=9)
    ax.tick_params(axis="y", labelsize=p["fs"], length=3, pad=9, color=SPINE)
    ax.tick_params(axis="x", length=4, pad=4, color=SPINE)

    # rainfall hanging from the top on an inverted right axis
    ax2 = ax.twinx()
    ax2.vlines(rain["date"], 0, rain["value"], color=RAIN_COLOR, lw=1.2)
    ax2.set_ylim(p["rmax"], 0)
    ax2.set_yticks(range(0, p["rmax"] + 1, 50))
    ax2.set_ylabel("Rainfall (mm)", fontsize=13, labelpad=14)
    ax2.tick_params(axis="y", labelsize=p["fs"], length=3, pad=9, color=SPINE)

    for a in (ax, ax2):
        for s in a.spines.values():
            s.set_color(SPINE)
            s.set_linewidth(1.0)

    handles = [Line2D([], [], color=EST_COLOR, lw=1.6),
               Line2D([], [], color=OBS_COLOR, lw=1.0, linestyle=(0, (2, 1))),
               Line2D([], [], color=p["rain_leg"], lw=1.2)]
    ax2.legend(handles, ["Estimated hydrogram", "Observed hydrogram", "Rainfall"],
               loc="upper left", bbox_to_anchor=p["leg"], frameon=False, fontsize=13,
               handlelength=0.5, handletextpad=0.15, labelspacing=0.55,
               borderaxespad=0, borderpad=0)

    fig.text(0.013, p["lab_y"], p["name"], fontsize=15, va="center", ha="left")

    if i == 2:
        # callout for the low simulated flows in 2000
        num = mdates.date2num
        ax.add_patch(Ellipse((num(pd.Timestamp("2000-07-05")), 2.0), width=190, height=12,
                             fill=False, ec="#3a3a3a", lw=0.9, clip_on=False))
        ax.plot(pd.to_datetime(["2000-08-04", "1999-11-08", "2000-02-25"]), [6.5, 130, 130],
                color="#3a3a3a", lw=0.9, clip_on=False)
        x0 = num(pd.Timestamp("2000-06-05"))
        x1 = num(pd.Timestamp("2003-10-15"))
        ax.add_patch(Rectangle((x0, 107), x1 - x0, 28, fill=False, ec="#555555", lw=1.0))
        ax.text(pd.Timestamp("2002-02-08"), 121.5, "Simulated streamflows = 0.4 m$^3$ s$^{-1}$",
                ha="center", va="center", fontsize=12.5)

fig.savefig("out.png", dpi=100)
